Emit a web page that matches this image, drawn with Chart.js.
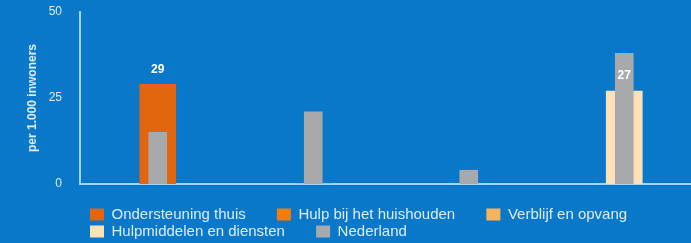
<!DOCTYPE html>
<html lang="nl">
<head>
    <meta charset="UTF-8">
    <title>Wmo per 1.000 inwoners</title>
    <script src="https://cdn.jsdelivr.net/npm/chart.js"></script>
    <style>
        html, body {
            margin: 0;
            padding: 0;
            background: #0a78c8;
            overflow: hidden;
            width: 691px;
            height: 243px;
        }
        #wrap {
            position: relative;
            width: 712px;
            height: 249px;
        }
    </style>
</head>
<body>
    <div id="wrap"><canvas id="wmoChart"></canvas></div>

    <script>
        // categorieen (x-as, labels verborgen)
        const categories = ['Ondersteuning thuis', 'Hulp bij het huishouden', 'Verblijf en opvang', 'Hulpmiddelen en diensten'];

        // gemeente, per soort voorziening
        const ondersteuningThuis = [29, null, null, null];
        const hulpHuishouden = [null, 0, null, null];
        const verblijfOpvang = [null, null, 0, null];
        const hulpmiddelenDiensten = [null, null, null, 27];
        // landelijk gemiddelde
        const nederland = [15, 21, 4, 38];

        const yTicks = [0, 25, 50];

        const lightText = '#d9ecfb';
        const axisColor = '#9fd6f7';

        const colored = (label, data, color) => ({
            label: label,
            data: data,
            backgroundColor: color,
            barThickness: 36,
            grouped: false,
            showValue: true
        });

        // waarde boven de gekleurde staven
        const valueLabels = {
            id: 'valueLabels',
            afterDatasetsDraw(chart) {
                const ctx = chart.ctx;
                ctx.save();
                ctx.font = 'bold 12px "Liberation Sans", Arial, sans-serif';
                ctx.fillStyle = '#ffffff';
                ctx.textAlign = 'center';
                ctx.textBaseline = 'middle';
                chart.data.datasets.forEach((ds, i) => {
                    if (!ds.showValue) return;
                    chart.getDatasetMeta(i).data.forEach((bar, j) => {
                        const v = ds.data[j];
                        if (v) ctx.fillText(v, bar.x, bar.y - 15);
                    });
                });
                ctx.restore();
            }
        };

        // legenda laten beginnen onder de plot
        const shiftLegend = {
            id: 'shiftLegend',
            afterLayout(chart) {
                chart.legend.left += 88;
            }
        };

        new Chart(document.getElementById('wmoChart'), {
            type: 'bar',
            data: {
                labels: categories,
                datasets: [
                    colored('Ondersteuning thuis', ondersteuningThuis, '#e2650f'),
                    colored('Hulp bij het huishouden', hulpHuishouden, '#f47c0a'),
                    colored('Verblijf en opvang', verblijfOpvang, '#fab45e'),
                    colored('Hulpmiddelen en diensten', hulpmiddelenDiensten, '#fde2b8'),
                    {
                        label: 'Nederland',
                        data: nederland,
                        backgroundColor: '#a7a9ab',
                        barThickness: 18,
                        grouped: false,
                        order: -1
                    }
                ]
            },
            options: {
                responsive: true,
                maintainAspectRatio: false,
                animation: false,
                layout: { padding: { top: 12, right: 10, left: 0, bottom: 0 } },
                plugins: {
                    tooltip: { enabled: false },
                    legend: {
                        position: 'bottom',
                        align: 'start',
                        labels: {
                            color: lightText,
                            font: { size: 15, family: '"Liberation Sans", Arial, sans-serif' },
                            boxWidth: 14,
                            boxHeight: 12,
                            padding: 2,
                            sort: (a, b) => a.datasetIndex - b.datasetIndex,
                            generateLabels(chart) {
                                const items = Chart.defaults.plugins.legend.labels.generateLabels(chart);
                                items.forEach(it => {
                                    it.text = it.text + '\u00a0\u00a0\u00a0\u00a0\u00a0\u00a0\u00a0';
                                    it.lineWidth = 0;
                                });
                                return items;
                            }
                        }
                    }
                },
                scales: {
                    x: {
                        grid: { display: false, drawTicks: false },
                        ticks: { display: false },
                        border: { display: true, color: axisColor, width: 2 },
                        afterFit: s => { s.height = 21; }
                    },
                    y: {
                        min: 0,
                        max: 50,
                        afterBuildTicks: s => { s.ticks = yTicks.map(v => ({ value: v })); },
                        grid: { display: false, drawTicks: false },
                        border: { display: true, color: axisColor, width: 2 },
                        ticks: {
                            color: lightText,
                            padding: 18,
                            font: { size: 12, family: '"Liberation Sans", Arial, sans-serif' }
                        },
                        title: {
                            display: true,
                            text: 'per 1.000 inwoners',
                            color: lightText,
                            padding: { top: 25, bottom: 0 },
                            font: { size: 12, weight: 'bold', family: '"Liberation Sans", Arial, sans-serif' }
                        },
                        afterFit: s => {
                            s.width = 80;
                            s.paddingTop = 0;
                            s.paddingBottom = 0;
                        }
                    }
                }
            },
            plugins: [valueLabels, shiftLegend]
        });
    </script>
</body>
</html>
